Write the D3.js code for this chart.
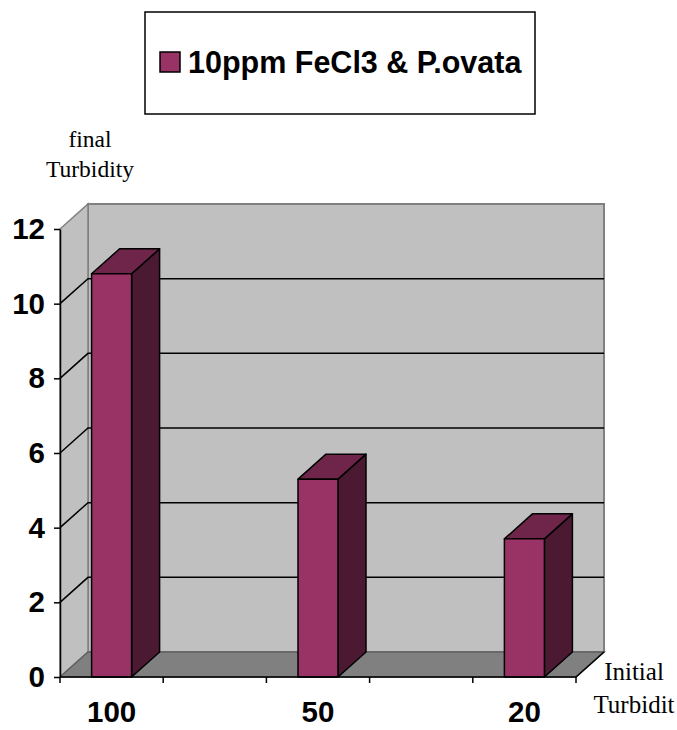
<!DOCTYPE html>
<html>
<head>
<meta charset="utf-8">
<script src="https://cdn.jsdelivr.net/npm/d3@7"></script>
<style>
  body { margin: 0; background: #fff; }
  svg { display: block; }
</style>
</head>
<body>
<div id="chart"></div>
<script>
// Chart data (empty slots keep Excel's spacing between the columns)
var categories = ['100', '', '50', '', '20'];
var values = [10.8, null, 5.3, null, 3.7];
var yTicks = [0, 2, 4, 6, 8, 10, 12];
var seriesName = '10ppm FeCl3 & P.ovata';

(function (d3) {
  'use strict';

  var width = 677,
      height = 730,
      dx = 28,      // depth offset of the 3d box
      dy = -25,
      barWidth = 40;

  var colors = {
    front: '#993366',
    top: '#6e2549',
    side: '#4c1933',
    wall: '#c0c0c0',
    floor: '#808080',
    edge: '#808080'
  };

  var svg = d3.select('#chart').append('svg')
      .attr('width', width)
      .attr('height', height);

  // Scales
  var x = d3.scaleBand().domain(d3.range(categories.length)).range([60, 576]);
  var y = d3.scaleLinear().domain([0, 12]).range([677, 229]);

  var x0 = x.range()[0], x1 = x.range()[1],
      yb = y(0), yt = y(12);

  function pts(arr) {
    return arr.map(function(p) { return p.join(','); }).join(' ');
  }

  // Back wall, left wall and floor
  svg.append('polygon')
      .attr('points', pts([[x0 + dx, yb + dy], [x1 + dx, yb + dy], [x1 + dx, yt + dy], [x0 + dx, yt + dy]]))
      .attr('fill', colors.wall)
      .attr('stroke', colors.edge)
      .attr('stroke-width', 2);
  svg.append('polygon')
      .attr('points', pts([[x0, yb], [x0, yt], [x0 + dx, yt + dy], [x0 + dx, yb + dy]]))
      .attr('fill', colors.wall)
      .attr('stroke', colors.edge)
      .attr('stroke-width', 1.5);
  svg.append('polygon')
      .attr('points', pts([[x0, yb], [x1, yb], [x1 + dx, yb + dy], [x0 + dx, yb + dy]]))
      .attr('fill', colors.floor)
      .attr('stroke', '#606060')
      .attr('stroke-width', 1.5);
  // right floor edge is black
  svg.append('line')
      .attr('x1', x1).attr('y1', yb)
      .attr('x2', x1 + dx).attr('y2', yb + dy)
      .attr('stroke', '#000')
      .attr('stroke-width', 1.5);

  // Gridlines on the left wall and the back wall
  var grid = yTicks.filter(function(v) { return v > 0 && v < 12; });
  svg.selectAll('.gridline')
    .data(grid)
    .enter().append('polyline')
      .attr('class', 'gridline')
      .attr('fill', 'none')
      .attr('stroke', '#000')
      .attr('stroke-width', 1.5)
      .attr('points', function(v) {
        return pts([[x0, y(v)], [x0 + dx, y(v) + dy], [x1 + dx, y(v) + dy]]);
      });

  // Bars, drawn as 3d columns
  var bars = svg.selectAll('.bar')
    .data(values.map(function(v, i) { return {i: i, v: v}; })
      .filter(function(d) { return d.v !== null; }))
    .enter().append('g')
      .attr('class', 'bar')
      .attr('stroke', '#000')
      .attr('stroke-width', 1.5)
      .attr('stroke-linejoin', 'round');

  function bx(d) { return x(d.i) + (x.bandwidth() - barWidth) / 2; }

  bars.append('polygon')
      .attr('fill', colors.side)
      .attr('points', function(d) {
        var l = bx(d) + barWidth;
        return pts([[l, yb], [l, y(d.v)], [l + dx, y(d.v) + dy], [l + dx, yb + dy]]);
      });
  bars.append('polygon')
      .attr('fill', colors.top)
      .attr('points', function(d) {
        var l = bx(d), t = y(d.v);
        return pts([[l, t], [l + dx, t + dy], [l + barWidth + dx, t + dy], [l + barWidth, t]]);
      });
  bars.append('rect')
      .attr('fill', colors.front)
      .attr('x', bx)
      .attr('y', function(d) { return y(d.v); })
      .attr('width', barWidth)
      .attr('height', function(d) { return yb - y(d.v); });

  // Y axis
  var yAxis = svg.append('g')
      .attr('transform', 'translate(' + x0 + ',0)')
      .call(d3.axisLeft(y).tickValues(yTicks).tickSize(6).tickSizeOuter(0).tickPadding(9));
  yAxis.select('.domain').attr('stroke-width', 1.5);
  yAxis.selectAll('.tick line').attr('stroke-width', 1.5);
  yAxis.selectAll('text')
      .attr('font-family', 'Liberation Sans, Arial, sans-serif')
      .attr('font-weight', 'bold')
      .attr('font-size', 29.5)
      .attr('fill', '#000');

  // X axis: ticks at band edges, labels centred in bands
  var xAxis = svg.append('g');
  xAxis.append('line')
      .attr('x1', x0).attr('x2', x1)
      .attr('y1', yb).attr('y2', yb)
      .attr('stroke', '#000')
      .attr('stroke-width', 1.5);
  xAxis.selectAll('.xtick')
    .data(d3.range(categories.length + 1))
    .enter().append('line')
      .attr('class', 'xtick')
      .attr('x1', function(i) { return x0 + i * x.step(); })
      .attr('x2', function(i) { return x0 + i * x.step(); })
      .attr('y1', yb).attr('y2', yb + 6)
      .attr('stroke', '#000')
      .attr('stroke-width', 1.5);
  xAxis.selectAll('.xlabel')
    .data(categories)
    .enter().append('text')
      .attr('class', 'xlabel')
      .attr('x', function(d, i) { return x(i) + x.bandwidth() / 2; })
      .attr('y', 722)
      .attr('text-anchor', 'middle')
      .attr('font-family', 'Liberation Sans, Arial, sans-serif')
      .attr('font-weight', 'bold')
      .attr('font-size', 29.5)
      .text(function(d) { return d; });

  // Axis titles
  var serif = 'Liberation Serif, Times New Roman, serif';
  svg.append('text')
      .attr('x', 90).attr('y', 147)
      .attr('text-anchor', 'middle')
      .attr('font-family', serif)
      .attr('font-size', 23.5)
      .text('final');
  svg.append('text')
      .attr('x', 90).attr('y', 177)
      .attr('text-anchor', 'middle')
      .attr('font-family', serif)
      .attr('font-size', 23.5)
      .text('Turbidity');
  svg.append('text')
      .attr('x', 634).attr('y', 680)
      .attr('text-anchor', 'middle')
      .attr('font-family', serif)
      .attr('font-size', 25)
      .text('Initial');
  svg.append('text')
      .attr('x', 634).attr('y', 713)
      .attr('text-anchor', 'middle')
      .attr('font-family', serif)
      .attr('font-size', 25)
      .text('Turbidit');

  // Legend
  var legend = svg.append('g');
  legend.append('rect')
      .attr('x', 145).attr('y', 12)
      .attr('width', 390).attr('height', 102)
      .attr('fill', '#fff')
      .attr('stroke', '#000')
      .attr('stroke-width', 1.5);
  legend.append('rect')
      .attr('x', 160).attr('y', 52)
      .attr('width', 20).attr('height', 20)
      .attr('fill', colors.front)
      .attr('stroke', '#000')
      .attr('stroke-width', 1.5);
  legend.append('text')
      .attr('x', 188).attr('y', 73)
      .attr('font-family', 'Liberation Sans, Arial, sans-serif')
      .attr('font-weight', 'bold')
      .attr('font-size', 30.5)
      .text(seriesName);
}(d3));
</script>
</body>
</html>
